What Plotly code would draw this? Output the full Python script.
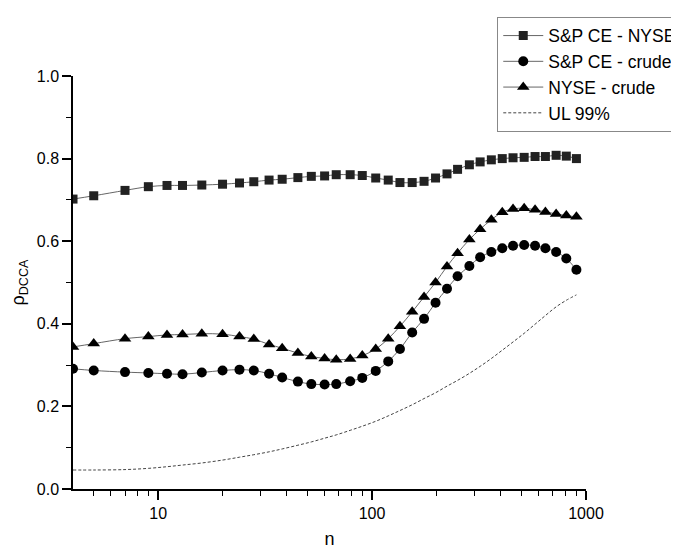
import plotly.graph_objects as go

n_vals = [4, 5, 7, 9, 11, 13, 16, 20, 24, 28, 33, 38, 45, 52, 60, 68, 79, 90, 104, 119,
          135, 154, 175, 198, 224, 251, 285, 320, 361, 406, 456, 514, 578, 646, 725, 809, 902]

sp_nyse = [0.702, 0.710, 0.723, 0.732, 0.735, 0.735, 0.736, 0.738, 0.741, 0.744, 0.748, 0.750,
           0.754, 0.757, 0.758, 0.761, 0.761, 0.759, 0.753, 0.748, 0.742, 0.742, 0.745, 0.753,
           0.763, 0.774, 0.785, 0.792, 0.797, 0.800, 0.802, 0.803, 0.805, 0.805, 0.808, 0.806, 0.800]

sp_crude = [0.291, 0.287, 0.283, 0.281, 0.279, 0.278, 0.282, 0.287, 0.289, 0.287, 0.279, 0.270,
            0.260, 0.254, 0.253, 0.254, 0.261, 0.269, 0.286, 0.309, 0.339, 0.379, 0.412, 0.451,
            0.485, 0.515, 0.540, 0.561, 0.574, 0.583, 0.589, 0.591, 0.589, 0.583, 0.574, 0.558, 0.531]

nyse_crude = [0.344, 0.352, 0.364, 0.369, 0.373, 0.374, 0.376, 0.375, 0.369, 0.363, 0.350, 0.341,
              0.329, 0.321, 0.316, 0.313, 0.315, 0.323, 0.339, 0.364, 0.394, 0.429, 0.465, 0.500,
              0.539, 0.571, 0.604, 0.629, 0.652, 0.670, 0.678, 0.680, 0.676, 0.671, 0.666, 0.662, 0.659]

ul99 = [0.046, 0.046, 0.047, 0.050, 0.054, 0.058, 0.063, 0.070, 0.077, 0.083, 0.090, 0.097,
        0.106, 0.114, 0.123, 0.131, 0.142, 0.152, 0.164, 0.177, 0.190, 0.204, 0.219, 0.233,
        0.249, 0.263, 0.280, 0.297, 0.316, 0.336, 0.356, 0.377, 0.399, 0.420, 0.441, 0.457, 0.470]

names = ["S&P CE - NYSE", "S&P CE - crude", "NYSE - crude", "UL 99%"]

x_major = [10, 100, 1000]
x_minor = [5, 6, 7, 8, 9, 20, 30, 40, 50, 60, 70, 80, 90, 200, 300, 400, 500, 600, 700, 800, 900]
y_ticks = [0.0, 0.2, 0.4, 0.6, 0.8, 1.0]
y_ticklabels = ["0.0", "0.2", "0.4", "0.6", "0.8", "1.0"]
y_minor = [0.1, 0.3, 0.5, 0.7, 0.9]

FONT = "Liberation Sans, Arial, sans-serif"
line_col = "#666666"

fig = go.Figure()
fig.add_trace(go.Scatter(x=n_vals, y=sp_nyse, name=names[0], mode="lines+markers",
                         line=dict(color=line_col, width=1, shape="spline"),
                         marker=dict(symbol="square", size=9, color="#222222")))
fig.add_trace(go.Scatter(x=n_vals, y=sp_crude, name=names[1], mode="lines+markers",
                         line=dict(color=line_col, width=1, shape="spline"),
                         marker=dict(symbol="circle", size=10, color="#000000")))
fig.add_trace(go.Scatter(x=n_vals, y=nyse_crude, name=names[2], mode="lines+markers",
                         line=dict(color=line_col, width=1, shape="spline"),
                         marker=dict(symbol="triangle-up", size=11, color="#000000")))
fig.add_trace(go.Scatter(x=n_vals, y=ul99, name=names[3], mode="lines",
                         line=dict(color="#444444", width=1, dash="3px,2px", shape="spline")))

# page body has an 8px margin, so the figure is sized/offset to compensate
fig.update_layout(
    width=671, height=541,
    paper_bgcolor="white", plot_bgcolor="white",
    margin=dict(l=65, r=93, t=68, b=60, autoexpand=False),
    font=dict(family=FONT, size=16, color="#000000"),
    showlegend=True,
    legend=dict(x=0.827, y=1.1436, xanchor="left", yanchor="top",
                bgcolor="white", bordercolor="#888888", borderwidth=1,
                itemwidth=40,
                font=dict(size=17.5, family=FONT), tracegroupgap=0),
    xaxis=dict(type="log", range=[0.602, 3.0], showgrid=False, zeroline=False,
               showline=True, linecolor="#000000", linewidth=1.5,
               ticks="outside", ticklen=9, tickwidth=1.5, tickcolor="#000000",
               tickvals=x_major, ticktext=[str(v) for v in x_major],
               tickfont=dict(size=16),
               minor=dict(tickvals=x_minor, ticks="outside", ticklen=5, tickwidth=1.2,
                          tickcolor="#000000", showgrid=False),
               title=dict(text="n", font=dict(size=18), standoff=16)),
    yaxis=dict(range=[0, 1.0], showgrid=False, zeroline=False,
               showline=True, linecolor="#000000", linewidth=1.5,
               ticks="outside", ticklen=9, tickwidth=1.5, tickcolor="#000000",
               tickvals=y_ticks, ticktext=y_ticklabels, tickfont=dict(size=16),
               minor=dict(tickvals=y_minor, ticks="outside", ticklen=5, tickwidth=1.2,
                          tickcolor="#000000", showgrid=False),
               title=dict(text="ρ<sub>DCCA</sub>", font=dict(size=18), standoff=8)),
)

fig.write_html("out.html")
